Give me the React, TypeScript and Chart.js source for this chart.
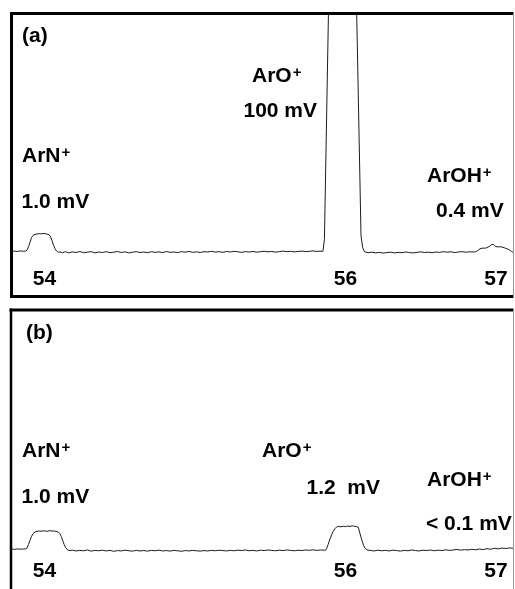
import React, { useEffect, useRef } from "react";
import { Chart, registerables } from "chart.js";

Chart.register(...registerables);

// ---------- DATA ----------
// Panel (a): m/z axis (u) and detector signal (mV)
const massA = [
  53.781, 53.8, 53.82, 53.84, 53.86, 53.875,
  53.884, 53.894, 53.904, 53.914, 53.924, 53.937, 53.95, 53.965, 53.98, 53.997, 54.015, 54.03, 54.04, 54.05, 54.06, 54.07, 54.08, 54.092, 54.103,
  54.12, 54.14, 54.16, 54.185, 54.21, 54.235, 54.26, 54.285, 54.31, 54.335, 54.36, 54.385, 54.41, 54.435, 54.46, 54.485, 54.51, 54.535, 54.56, 54.585,
  54.61, 54.635, 54.66, 54.685, 54.71, 54.735, 54.76, 54.785, 54.81, 54.835, 54.86, 54.885, 54.91, 54.935, 54.96, 54.985, 55.01, 55.035, 55.06, 55.085,
  55.11, 55.135, 55.16, 55.185, 55.21, 55.235, 55.26, 55.285, 55.31, 55.335, 55.36, 55.385, 55.41, 55.435, 55.46, 55.485, 55.51, 55.535, 55.56, 55.585,
  55.61, 55.635, 55.66, 55.685, 55.71, 55.735, 55.76, 55.785, 55.81, 55.83, 55.845,
  55.85, 55.86, 55.887, 55.904, 56.057, 56.074, 56.103, 56.114, 56.126,
  56.15, 56.175, 56.2, 56.225, 56.25, 56.275, 56.3, 56.325, 56.35, 56.375, 56.4, 56.425, 56.45, 56.475, 56.5, 56.525, 56.55, 56.575, 56.6, 56.625,
  56.65, 56.675, 56.7, 56.725, 56.75, 56.775, 56.8, 56.825, 56.85, 56.865,
  56.874, 56.884, 56.894, 56.914, 56.93, 56.94, 56.955, 56.97, 56.98, 56.99, 57.0, 57.015, 57.027, 57.04, 57.053, 57.065, 57.08, 57.095, 57.105, 57.116,
];
const signalA = [
  0.02, 0.05, 0.03, 0.06, 0.04, 0.05,
  0.1, 0.3, 0.55, 0.8, 0.93, 0.98, 1.0, 1.02, 1.01, 1.03, 1.0, 0.96, 0.85, 0.62, 0.38, 0.18, 0.06, -0.02, 0.01,
  -0.04, 0.02, -0.05, 0.01, -0.03, 0.03, -0.04, -0.01, 0.02, -0.05, 0.0, -0.03, 0.02, -0.04, -0.01, 0.03, -0.03, 0.01, -0.05, -0.01,
  0.02, -0.03, 0.0, -0.04, 0.02, -0.02, 0.01, -0.04, 0.03, -0.02, 0.0, -0.03, 0.02, -0.01, 0.03, -0.02, 0.01, -0.03, 0.02, 0.0,
  0.04, -0.01, 0.02, -0.02, 0.03, 0.0, 0.04, 0.01, -0.02, 0.02, 0.0, 0.03, -0.01, 0.02, 0.04, 0.01, 0.03, -0.01, 0.02, 0.05,
  0.02, 0.04, 0.01, 0.03, 0.05, 0.02, 0.04, 0.06, 0.03, 0.05, 0.04,
  0.05, 0.7, 13.4, 100, 100, 13.4, 0.9, 0.25, 0.02,
  -0.04, -0.01, -0.05, -0.02, -0.06, -0.03, -0.01, -0.05, -0.02, -0.04, 0.0, -0.03, -0.05, -0.02, 0.01, -0.03, -0.01, -0.04, 0.0, -0.02,
  0.02, -0.01, 0.01, -0.03, 0.0, 0.02, -0.01, 0.01, 0.0, 0.02,
  0.05, 0.12, 0.18, 0.22, 0.21, 0.25, 0.3, 0.4, 0.43, 0.36, 0.3, 0.28, 0.3, 0.27, 0.24, 0.2, 0.16, 0.08, 0.02, -0.02,
];

// Panel (b)
const massB = [
  53.781, 53.8, 53.82, 53.84, 53.86, 53.875,
  53.884, 53.894, 53.904, 53.914, 53.924, 53.937, 53.95, 53.965, 53.983, 54.0, 54.017, 54.035, 54.05, 54.067, 54.083, 54.095, 54.103, 54.112, 54.12, 54.13, 54.14, 54.15, 54.163,
  54.185, 54.21, 54.235, 54.26, 54.285, 54.31, 54.335, 54.36, 54.385, 54.41, 54.435, 54.46, 54.485, 54.51, 54.535, 54.56, 54.585, 54.61, 54.635, 54.66,
  54.685, 54.71, 54.735, 54.76, 54.785, 54.81, 54.835, 54.86, 54.885, 54.91, 54.935, 54.96, 54.985, 55.01, 55.035, 55.06, 55.085, 55.11, 55.135, 55.16,
  55.185, 55.21, 55.235, 55.26, 55.285, 55.31, 55.335, 55.36, 55.385, 55.41, 55.435, 55.46, 55.485, 55.51, 55.535, 55.56, 55.585, 55.61, 55.635, 55.66,
  55.685, 55.71, 55.735, 55.76, 55.785, 55.81, 55.835, 55.86, 55.87,
  55.875, 55.885, 55.897, 55.908, 55.918, 55.93, 55.942, 55.955, 55.97, 55.985, 56.0, 56.015, 56.03, 56.045, 56.06, 56.072, 56.085, 56.095, 56.108, 56.12, 56.13, 56.143,
  56.165, 56.19, 56.215, 56.24, 56.265, 56.29, 56.315, 56.34, 56.365, 56.39, 56.415, 56.44, 56.465, 56.49, 56.515, 56.54, 56.565, 56.59, 56.615, 56.64,
  56.665, 56.69, 56.715, 56.74, 56.765, 56.79, 56.815, 56.84, 56.865, 56.89, 56.915, 56.94, 56.965, 56.99, 57.015, 57.04, 57.065, 57.09, 57.116,
];
const signalB = [
  0.05, 0.03, 0.06, 0.04, 0.05, 0.06,
  0.1, 0.3, 0.52, 0.72, 0.86, 0.95, 0.98, 1.0, 0.99, 1.01, 0.98, 1.02, 1.0, 0.99, 0.97, 0.92, 0.85, 0.7, 0.52, 0.3, 0.13, 0.03, -0.03,
  -0.01, -0.05, -0.02, -0.04, 0.0, -0.06, -0.02, -0.04, -0.01, -0.05, -0.02, -0.07, -0.03, -0.05, -0.01, -0.04, -0.06, -0.02, -0.05, -0.03,
  -0.06, -0.02, -0.04, -0.01, -0.05, -0.03, -0.06, -0.02, -0.04, -0.07, -0.03, -0.05, -0.02, -0.04, -0.06, -0.03, -0.05, -0.02, -0.04, -0.01,
  -0.03, -0.05, -0.02, -0.04, -0.01, -0.03, 0.0, -0.04, -0.02, -0.05, -0.01, -0.03, 0.0, -0.02, -0.04, -0.01, -0.03, 0.0, -0.02, -0.04,
  -0.01, -0.03, 0.0, -0.02, 0.01, -0.02, 0.0, -0.01, 0.0,
  0.08, 0.3, 0.58, 0.8, 0.98, 1.12, 1.22, 1.24, 1.22, 1.25, 1.23, 1.26, 1.24, 1.27, 1.25, 1.23, 1.2, 0.9, 0.53, 0.25, 0.09, 0.0,
  -0.02, -0.05, -0.01, -0.04, -0.02, -0.05, -0.01, -0.03, -0.06, -0.02, -0.04, 0.0, -0.03, -0.05, -0.01, -0.03, 0.0, -0.04, -0.01, -0.03,
  0.01, -0.02, 0.0, 0.03, -0.01, 0.02, 0.0, 0.04, 0.01, 0.05, 0.02, 0.07, 0.04, 0.09, 0.06, 0.1, 0.08, 0.11, 0.09,
];

const tickMasses = [54, 56, 57];
const tickLabels = ["54", "56", "57"];

const textA = ["(a)", "ArO", "100 mV", "ArN", "1.0 mV", "ArOH", "0.4 mV"];
const supA = ["", "+", "", "+", "", "+", ""];
const textB = ["(b)", "ArN", "1.0 mV", "ArO", "1.2  mV", "ArOH", "< 0.1 mV"];
const supB = ["", "+", "", "+", "", "+", ""];

// ---------- LAYOUT ----------
const X_MIN = 53.7807;
const X_MAX = 57.1163;
const FONT = 'bold 21px "Liberation Sans", Arial, sans-serif';
const SUP_FONT = 'bold 15px "Liberation Sans", Arial, sans-serif';

type PanelCfg = {
  top: number;
  height: number;
  yMin: number;
  yMax: number;
  padding: { left: number; right: number; top: number; bottom: number };
  textPos: [number, number][];
  tickY: number;
  frame: { top: number; left: number; leftW: number; bottom: number | null };
};

const cfgA: PanelCfg = {
  top: 0,
  height: 300,
  yMin: -2.444,
  yMax: 13.25,
  padding: { left: 11.5, right: 1.5, top: 13.5, bottom: 4 },
  textPos: [
    [22, 42.3],
    [252, 82],
    [243.5, 117],
    [22, 162],
    [21.5, 208],
    [427, 182],
    [436, 217],
  ],
  tickY: 285,
  frame: { top: 13.5, left: 11.5, leftW: 3, bottom: 296.5 },
};

const cfgB: PanelCfg = {
  top: 300,
  height: 289,
  yMin: -2.053,
  yMax: 12.632,
  padding: { left: 11.5, right: 1.5, top: 10, bottom: 0 },
  textPos: [
    [26, 38.5],
    [22, 157],
    [21.5, 203],
    [262, 157],
    [306.5, 194],
    [427, 186],
    [426, 230],
  ],
  tickY: 277,
  frame: { top: 10, left: 11, leftW: 2.5, bottom: null },
};

function makePlugin(cfg: PanelCfg, texts: string[], sups: string[]) {
  return {
    id: "panelDecor",
    afterDraw(chart: any) {
      const ctx = chart.ctx as CanvasRenderingContext2D;
      const f = cfg.frame;
      ctx.save();
      ctx.strokeStyle = "#000";
      ctx.lineCap = "butt";
      // top
      ctx.lineWidth = 3;
      ctx.beginPath();
      ctx.moveTo(f.left - 1.5, f.top);
      ctx.lineTo(513.5, f.top);
      ctx.stroke();
      // left
      ctx.lineWidth = f.leftW;
      ctx.beginPath();
      ctx.moveTo(f.left, f.top - 1.5);
      ctx.lineTo(f.left, f.bottom !== null ? f.bottom + 1.5 : cfg.height);
      ctx.stroke();
      // bottom
      if (f.bottom !== null) {
        ctx.lineWidth = 3;
        ctx.beginPath();
        ctx.moveTo(f.left - 1.5, f.bottom);
        ctx.lineTo(513.5, f.bottom);
        ctx.stroke();
      }
      // right (thin, grey)
      ctx.strokeStyle = "#9a9a9a";
      ctx.lineWidth = 1;
      ctx.beginPath();
      ctx.moveTo(513.5, f.top);
      ctx.lineTo(513.5, f.bottom !== null ? f.bottom : cfg.height);
      ctx.stroke();

      // annotations
      ctx.fillStyle = "#000";
      ctx.textBaseline = "alphabetic";
      ctx.textAlign = "left";
      texts.forEach((t, i) => {
        const [x, y] = cfg.textPos[i];
        ctx.font = FONT;
        ctx.fillText(t, x, y);
        if (sups[i]) {
          const w = ctx.measureText(t).width;
          ctx.font = SUP_FONT;
          ctx.fillText(sups[i], x + w + 1, y - 5);
        }
      });

      // tick labels through the x scale
      const xs = chart.scales.x;
      ctx.font = FONT;
      ctx.textAlign = "center";
      tickMasses.forEach((m, i) => {
        ctx.fillText(tickLabels[i], xs.getPixelForValue(m), cfg.tickY);
      });
      ctx.restore();
    },
  };
}

function Panel({
  cfg,
  mass,
  signal,
  texts,
  sups,
}: {
  cfg: PanelCfg;
  mass: number[];
  signal: number[];
  texts: string[];
  sups: string[];
}) {
  const ref = useRef<HTMLCanvasElement>(null);
  useEffect(() => {
    const canvas = ref.current;
    if (!canvas) return;
    const chart = new Chart(canvas, {
      type: "line",
      data: {
        datasets: [
          {
            data: mass.map((m, i) => ({ x: m, y: signal[i] })),
            borderColor: "#1c1c1c",
            borderWidth: 1,
            pointRadius: 0,
            tension: 0,
            fill: false,
          },
        ],
      },
      options: {
        responsive: false,
        animation: false,
        devicePixelRatio: 1,
        events: [],
        layout: { padding: cfg.padding },
        scales: {
          x: { type: "linear", min: X_MIN, max: X_MAX, display: false },
          y: { type: "linear", min: cfg.yMin, max: cfg.yMax, display: false },
        },
        plugins: {
          legend: { display: false },
          tooltip: { enabled: false },
          title: { display: false },
        },
      },
      plugins: [makePlugin(cfg, texts, sups)],
    } as any);
    return () => chart.destroy();
  }, []);
  return (
    <canvas
      ref={ref}
      width={515}
      height={cfg.height}
      style={{ position: "absolute", left: 0, top: cfg.top, display: "block" }}
    />
  );
}

export default function App() {
  return (
    <div
      style={{
        position: "absolute",
        left: 0,
        top: 0,
        width: 515,
        height: 589,
        background: "#fff",
        overflow: "hidden",
      }}
    >
      <Panel cfg={cfgA} mass={massA} signal={signalA} texts={textA} sups={supA} />
      <Panel cfg={cfgB} mass={massB} signal={signalB} texts={textB} sups={supB} />
    </div>
  );
}
